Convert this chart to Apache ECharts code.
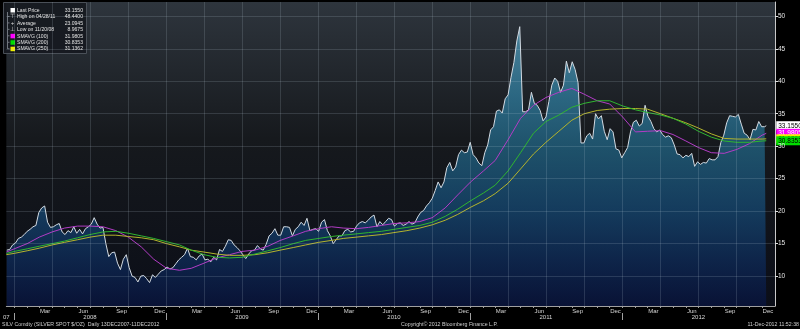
<!DOCTYPE html>
<html>
<head>
<meta charset="utf-8">
<script src="https://cdn.jsdelivr.net/npm/echarts@6/dist/echarts.min.js"></script>
<style>
html,body{margin:0;padding:0;background:#000;}
#chart{width:800px;height:329px;}
</style>
</head>
<body>
<div id="chart"></div>
<script>
// ---------- DATA ----------
// Weekly closes (Fridays) starting 2007-12-14
const price2007 = [14.0, 14.1, 14.8];
const price2008 = [15.1,15.8,16.0,16.4, 16.9,17.2,17.6,17.8,19.8, 20.5,20.8,18.3,17.5, 17.6,17.9,18.1,16.8,
  16.4,17.0,16.7,17.6,16.6, 17.2,16.5,17.3,17.6, 18.0,19.0,18.0,17.4, 17.5,15.0,13.0,13.6,13.7,
  12.0,11.0,12.6,13.3, 11.3,10.0,9.8,9.1,10.0, 10.1,9.6,9.0,10.2, 9.8,10.3,10.8,11.0];
const price2009 = [11.4,11.1,11.3,11.9,12.5, 12.9,13.3,14.3,13.0, 12.9,12.5,13.1,13.4, 12.5,12.6,12.2,12.9,
  12.5,14.1,13.8,14.6,15.6, 15.5,14.8,14.4,13.9, 13.3,12.7,13.4,13.9,14.0, 14.7,14.2,14.0,14.9,
  16.2,16.6,17.3,16.3, 16.3,17.6,17.6,17.5,16.2, 17.2,17.6,18.3,17.8, 18.9,17.0,17.2,17.3];
const price2010 = [16.9,18.3,18.7,17.0,16.2, 15.0,15.6,16.2,16.2, 17.0,17.2,16.8,16.9, 17.7,18.2,18.4,18.2,18.6,
  19.1,19.4,17.6,18.4, 17.9,18.4,18.9,18.7, 17.7,18.1,18.2,17.8,18.0, 18.4,18.0,18.2,19.1,
  19.8,20.1,20.8,21.3, 22.0,23.2,24.5,23.6,24.5, 26.7,27.5,26.2,26.8, 28.7,29.4,29.0,29.1,30.6];
const price2011 = [28.7,28.2,27.4,27.0, 29.0,30.2,32.5,33.0, 35.4,35.6,35.1,37.3, 37.9,40.6,42.9,46.2,48.4,
  35.3,35.3,35.6,38.3, 36.6,36.3,35.5,33.9, 34.5,36.9,39.4,40.5,40.0, 38.3,39.4,43.1,41.3,
  43.0,41.8,39.8,30.5,30.5, 31.6,32.0,31.1,35.0, 34.2,34.7,32.3,31.0, 32.7,32.2,29.6,29.4,28.2];
const price2012 = [29.0,29.8,32.2,33.7, 34.0,33.1,33.5,36.3, 34.6,33.8,32.7,32.2,32.5, 31.8,31.4,31.6,31.3,
  30.2,28.8,28.7,28.2, 28.6,28.4,28.9,26.9,27.6, 27.2,27.5,27.4,28.1, 27.9,27.9,28.4,30.6,31.7,
  33.6,34.7,34.6,34.5, 34.9,33.4,32.0,31.7, 31.0,32.6,32.5,33.8,33.0, 33.0];
const firstWeek = '2007-12-14';
const lastDate = '2012-12-11';
const lastPrice = 33.155;

// Moving averages, read monthly (first point 2007-12-13, then month starts, last 2012-12-11)
const sma100 = [13.7,
  14.2,15.0,16.0,16.8,17.4,17.7,17.7,17.6,17.0,16.0,14.5,12.6,
  11.2,10.9,11.2,12.0,12.8,13.3,13.8,14.0,14.6,15.5,16.2,16.9,
  17.3,17.6,17.4,17.3,17.5,17.8,18.1,18.2,18.4,19.0,20.5,22.5,
  24.5,26.2,27.8,31.0,34.3,36.3,37.5,38.3,38.9,38.0,37.0,36.5,
  34.5,32.2,32.3,32.4,31.8,30.8,29.8,29.0,28.9,29.5,30.4,31.7,
  31.9805];
const sma200 = [13.5,
  13.8,14.2,14.6,15.0,15.4,15.9,16.4,16.8,16.9,16.6,16.2,15.8,
  15.3,14.8,14.0,13.3,12.9,12.8,12.9,13.4,13.9,14.4,15.0,15.5,
  15.8,16.1,16.3,16.5,16.7,16.9,17.2,17.5,17.8,18.3,19.2,20.3,
  21.6,22.8,24.0,26.2,29.0,32.0,33.8,34.8,36.0,36.6,37.0,37.0,
  36.2,35.6,35.2,34.8,34.3,33.4,32.3,31.4,30.8,30.6,30.6,30.8,
  30.8353];
const sma250 = [13.3,
  13.5,13.9,14.3,14.8,15.2,15.6,16.0,16.3,16.3,16.1,15.9,15.6,
  15.0,14.5,14.0,13.7,13.4,13.2,13.2,13.3,13.6,14.0,14.4,14.8,
  15.2,15.5,15.8,16.0,16.2,16.4,16.7,17.0,17.4,17.9,18.6,19.5,
  20.6,21.6,22.7,24.3,26.5,28.8,30.6,32.3,34.0,35.0,35.5,35.7,
  35.8,35.8,35.7,35.0,34.3,33.6,32.8,31.9,31.2,31.1,31.1,31.1,
  31.1362];
const smaFirstDate = '2007-12-13';
const smaYears = [2008, 2009, 2010, 2011, 2012];

// Axis ticks / labels
const axisStart = '2007-12-13';
const axisEnd = '2013-01-01';
const yTicks = [10, 15, 20, 25, 30, 35, 40, 45, 50];
const monthNames = ['Jan','Feb','Mar','Apr','May','Jun','Jul','Aug','Sep','Oct','Nov','Dec'];
const labelMonths = [3, 6, 9, 12];
const gridMonths = [1, 4, 7, 10];
const axisYears = [2008, 2009, 2010, 2011, 2012];
const startYearLabel = '07';

// Legend
const legendLabels = ['Last Price','High on 04/28/11','Average','Low on 11/20/08','SMAVG (100)','SMAVG (200)','SMAVG (250)'];
const legendValues = ['33.1550','48.4400','23.0945','8.9675','31.9805','30.8353','31.1362'];
const legendIcons = ['box','\u22A4','+','\u22A5','box','box','box'];
const legendColors = ['#ffffff','#dddddd','#dddddd','#dddddd','#ff00ff','#00dd00','#eeee00'];

// Footer
const footerLeft = 'SILV Comdty (SILVER SPOT $/OZ)  Daily 13DEC2007-11DEC2012';
const footerMid = 'Copyright\u00A9 2012 Bloomberg Finance L.P.';
const footerRight = '11-Dec-2012 11:52:38';

// ---------- BUILD ----------
const DAY = 86400000;
const ts = s => { const p = s.split('-').map(Number); return Date.UTC(p[0], p[1] - 1, p[2]); };
const xMin = ts(axisStart), xMax = ts(axisEnd);

const weekly = [].concat(price2007, price2008, price2009, price2010, price2011, price2012);
const priceData = weekly.map((v, i) => [ts(firstWeek) + i * 7 * DAY, v]);
priceData.push([ts(lastDate), lastPrice]);

const smaDates = [ts(smaFirstDate)];
smaYears.forEach(y => { for (let m = 1; m <= 12; m++) smaDates.push(Date.UTC(y, m - 1, 1)); });
smaDates.push(ts(lastDate));
const pair = arr => arr.map((v, i) => [smaDates[i], v]);

const quarterStarts = [];
const monthStarts = [];
const monthLabelValues = [];
axisYears.forEach(y => {
  for (let m = 1; m <= 12; m++) {
    monthStarts.push(Date.UTC(y, m - 1, 1));
    if (gridMonths.includes(m)) quarterStarts.push(Date.UTC(y, m - 1, 1));
    if (labelMonths.includes(m)) monthLabelValues.push(Date.UTC(y, m - 1, 15));
  }
});
quarterStarts.push(xMax);
const yearStarts = axisYears.map(y => Date.UTC(y, 0, 1));
const yearLabelValues = [xMin].concat(axisYears.map(y => Date.UTC(y, 6, 1)));

const FONT = '"Liberation Sans", Arial, sans-serif';
const gridLine = { color: 'rgba(190,205,220,0.17)', width: 1 };

// narrow text helper (Bloomberg uses a condensed face)
const ntext = (x, y, text, fill, size, align, sx) => ({
  type: 'text', x: x, y: y, scaleX: sx || 0.85, z: 100,
  style: { x: 0, y: 0, text: text, fill: fill, fontSize: size, fontFamily: FONT, align: align || 'left', verticalAlign: 'middle' }
});

const tag = (bg, fg) => ({
  show: true,
  formatter: p => p.value[1].toFixed(4),
  backgroundColor: bg, color: fg, fontSize: 6.5, fontFamily: FONT,
  padding: [1, 2, 0, 2], distance: 10, lineHeight: 8
});

// legend graphics
const legendChildren = [{
  type: 'rect', shape: { x: 3.5, y: 2.5, width: 83, height: 51 },
  style: { fill: 'rgba(22,26,32,0.94)', stroke: '#4a5058', lineWidth: 1 }
}, {
  type: 'line', shape: { x1: 7.5, y1: 12, x2: 7.5, y2: 49 },
  style: { stroke: '#70767e', lineWidth: 1 }
}];
legendLabels.forEach((lab, i) => {
  const cy = 10 + i * 6.45;
  if (i > 0) legendChildren.push({ type: 'line', shape: { x1: 7.5, y1: cy, x2: 9.5, y2: cy }, style: { stroke: '#70767e', lineWidth: 1 } });
  if (legendIcons[i] === 'box') {
    legendChildren.push({ type: 'rect', shape: { x: 10.5, y: cy - 2, width: 4.5, height: 4.5 }, style: { fill: legendColors[i] } });
  } else {
    legendChildren.push({ type: 'text', style: { x: 12.5, y: cy, text: legendIcons[i], fill: legendColors[i], fontSize: 6, fontFamily: FONT, align: 'center', verticalAlign: 'middle' } });
  }
  legendChildren.push(ntext(17, cy, lab, '#e2e2e2', 6.2, 'left', 0.82));
  legendChildren.push(ntext(83, cy, legendValues[i], '#e2e2e2', 6.2, 'right', 0.82));
});

const chart = echarts.init(document.getElementById('chart'), null, { renderer: 'canvas' });
chart.setOption({
  animation: false,
  backgroundColor: '#000',
  grid: {
    left: 2, right: 25, top: 2, bottom: 23, show: true, borderWidth: 0,
    backgroundColor: new echarts.graphic.LinearGradient(0, 0, 0, 1, [
      { offset: 0, color: '#2e353d' },
      { offset: 0.45, color: '#16191d' },
      { offset: 1, color: '#0b0e18' }
    ])
  },
  xAxis: [
    {
      type: 'value', min: xMin, max: xMax, z: 5,
      axisLine: { show: false }, axisLabel: { show: false },
      axisTick: { show: false, customValues: quarterStarts },
      splitLine: { show: true, lineStyle: gridLine }
    },
    {
      type: 'value', min: xMin, max: xMax, position: 'bottom', z: 5,
      axisLine: { show: true, onZero: false, lineStyle: { color: '#a0a0a0', width: 1 } },
      axisTick: { show: true, customValues: monthStarts, length: 2, lineStyle: { color: '#a0a0a0' } },
      axisLabel: { show: true, customValues: monthLabelValues, formatter: v => monthNames[new Date(v).getUTCMonth()], color: '#d6d6d6', fontSize: 6, fontFamily: FONT, margin: 2 },
      splitLine: { show: false }
    },
    {
      type: 'value', min: xMin, max: xMax, position: 'bottom', offset: 7, z: 5,
      axisLine: { show: false },
      axisTick: { show: true, customValues: yearStarts, length: 7, lineStyle: { color: '#a0a0a0' } },
      axisLabel: { show: true, customValues: yearLabelValues, formatter: v => (v === xMin ? startYearLabel : String(new Date(v).getUTCFullYear())), color: '#d6d6d6', fontSize: 6, fontFamily: FONT, margin: 1 },
      splitLine: { show: false }
    }
  ],
  yAxis: {
    type: 'value', position: 'right', min: 5.4, max: 52.2, z: 5,
    axisLine: { show: true, lineStyle: { color: '#c8c8c8', width: 1 } },
    axisTick: { show: true, customValues: yTicks, length: 3, lineStyle: { color: '#e0e0e0' } },
    axisLabel: { show: true, customValues: yTicks, color: '#e6e6e6', fontSize: 6.5, fontFamily: FONT, margin: 3 },
    splitLine: { show: true, lineStyle: gridLine }
  },
  series: [
    {
      name: 'Last Price', type: 'line', data: priceData, symbol: 'none', z: 2,
      lineStyle: { color: '#d2dae2', width: 1 },
      areaStyle: {
        color: new echarts.graphic.LinearGradient(0, 0, 0, 1, [
          { offset: 0, color: '#5aa8c8' },
          { offset: 0.25, color: '#3184a8' },
          { offset: 0.45, color: '#21688a' },
          { offset: 0.65, color: '#164d7a' },
          { offset: 0.85, color: '#0d2b5c' },
          { offset: 1, color: '#081442' }
        ])
      },
      endLabel: tag('#ffffff', '#000000')
    },
    {
      name: 'SMAVG (100)', type: 'line', data: pair(sma100), symbol: 'none', z: 3,
      lineStyle: { color: '#b23cc6', width: 1 }, endLabel: tag('#ff00ff', '#ffffff')
    },
    {
      name: 'SMAVG (250)', type: 'line', data: pair(sma250), symbol: 'none', z: 3,
      lineStyle: { color: '#b4b42c', width: 1 }, endLabel: tag('#eeee00', '#000000')
    },
    {
      name: 'SMAVG (200)', type: 'line', data: pair(sma200), symbol: 'none', z: 3,
      lineStyle: { color: '#2fb52f', width: 1 }, endLabel: tag('#00dd00', '#000000')
    }
  ],
  graphic: [
    { type: 'group', z: 100, children: legendChildren },
    ntext(2, 324, footerLeft, '#cfcfcf', 6.2, 'left', 0.85),
    ntext(401, 324, footerMid, '#cfcfcf', 6.2, 'left', 0.85),
    ntext(799, 324, footerRight, '#cfcfcf', 6.2, 'right', 0.85)
  ]
});
</script>
</body>
</html>
